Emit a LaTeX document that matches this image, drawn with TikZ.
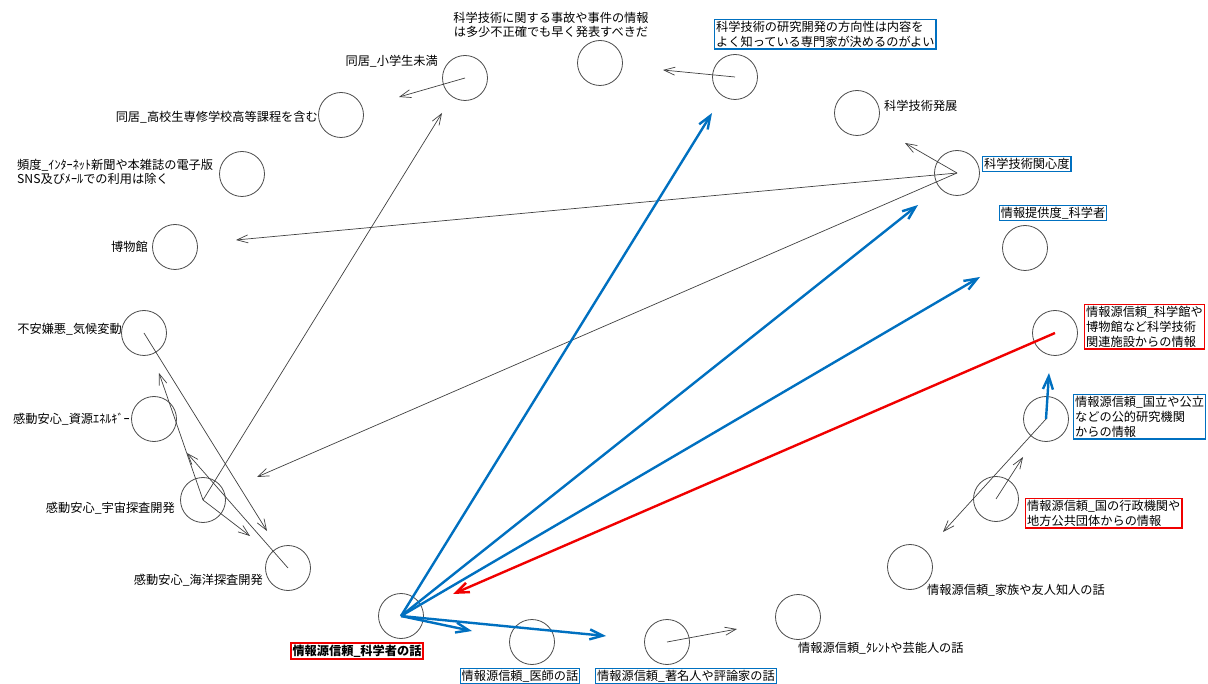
\documentclass[tikz,border=0pt]{standalone}
\usepackage{fontspec}
\setmainfont{Noto Sans CJK JP}
\usetikzlibrary{arrows.meta}
\definecolor{myblue}{RGB}{0,112,192}
\definecolor{myred}{RGB}{240,0,0}
\begin{document}
\begin{tikzpicture}[x=1pt,y=-1pt,
  circ/.style={draw=black!70, line width=0.8pt, circle, minimum size=45pt, inner sep=0pt},
  lab/.style={font=\fontsize{12.2}{13.5}\selectfont, inner sep=0pt, align=left, text=black},
  bluebox/.style={lab, draw=myblue, line width=1.3pt, inner sep=1.5pt, font=\fontsize{12.2}{15}\selectfont},
  redbox/.style={bluebox, draw=myred},
  thinarrow/.style={draw=black!75, line width=0.7pt, -{Straight Barb[length=11pt,width=8pt]}},
  bluearrow/.style={draw=myblue, line width=2.4pt, -{Straight Barb[length=13pt,width=10pt]}},
  redarrow/.style={draw=myred, line width=2.4pt, -{Straight Barb[length=13pt,width=10pt]}}
]
\useasboundingbox (0,0) rectangle (1208,684);

% circles
\node[circ] (cshogaku) at (465,78) {};
\node[circ] (cjiko) at (600,63) {};
\node[circ] (ckenkyu) at (735,77) {};
\node[circ] (ckokosei) at (341,115) {};
\node[circ] (chatten) at (857,113) {};
\node[circ] (chindo) at (242,174) {};
\node[circ] (ckanshin) at (957,173) {};
\node[circ] (cteikyo) at (1025,248) {};
\node[circ] (chakubutsu) at (175,247) {};
\node[circ] (ckiko) at (144,333) {};
\node[circ] (ckagakukan) at (1055,333) {};
\node[circ] (cshigen) at (154,419) {};
\node[circ] (ckokuritsu) at (1046,419) {};
\node[circ] (cuchu) at (203,500) {};
\node[circ] (cgyosei) at (996,499) {};
\node[circ] (ckaiyo) at (288,568) {};
\node[circ] (ckazoku) at (910,567) {};
\node[circ] (ckagakusha) at (401,616) {};
\node[circ] (cishi) at (532,642) {};
\node[circ] (cchomei) at (667,642) {};
\node[circ] (ctalent) at (798,617) {};

% labels
\node[lab, anchor=east] (lshogaku) at (438,61) {同居\_小学生未満};
\node[lab, anchor=center, align=center] (ljiko) at (551,25) {科学技術に関する事故や事件の情報\\は多少不正確でも早く発表すべきだ};
\node[bluebox, anchor=north west] (lkenkyu) at (714,19) {科学技術の研究開発の方向性は内容を\\よく知っている専門家が決めるのがよい};
\node[lab, anchor=east] (lkokosei) at (318,117) {同居\_高校生専修学校高等課程を含む};
\node[lab, anchor=west] (lhatten) at (884,106) {科学技術発展};
\node[lab, anchor=west] (lhindo) at (17,172) {頻度\_ｲﾝﾀｰﾈｯﾄ新聞や本雑誌の電子版\\SNS及びﾒｰﾙでの利用は除く};
\node[bluebox, anchor=west] (lkanshin) at (982,164) {科学技術関心度};
\node[bluebox, anchor=center] (lteikyo) at (1053,213) {情報提供度\_科学者};
\node[lab, anchor=east] (lhakubutsu) at (148,247) {博物館};
\node[lab, anchor=east] (lkiko) at (122,329) {不安嫌悪\_気候変動};
\node[redbox, anchor=north west] (lkagakukan) at (1084,304) {情報源信頼\_科学館や\\博物館など科学技術\\関連施設からの情報};
\node[lab, anchor=east] (lshigen) at (130,419) {感動安心\_資源ｴﾈﾙｷﾞｰ};
\node[bluebox, anchor=north west] (lkokuritsu) at (1073,394) {情報源信頼\_国立や公立\\などの公的研究機関\\からの情報};
\node[lab, anchor=east] (luchu) at (175,508) {感動安心\_宇宙探査開発};
\node[redbox, anchor=north west] (lgyosei) at (1025,498) {情報源信頼\_国の行政機関や\\地方公共団体からの情報};
\node[lab, anchor=east] (lkaiyo) at (263,580) {感動安心\_海洋探査開発};
\node[lab, anchor=west] (lkazoku) at (927,590) {情報源信頼\_家族や友人知人の話};
\node[lab, anchor=west] (ltalent) at (798,648) {情報源信頼\_ﾀﾚﾝﾄや芸能人の話};
\node[redbox, line width=2pt, anchor=west, font=\fontsize{12.2}{15}\bfseries] (lkagakusha) at (290,651) {情報源信頼\_科学者の話};
\node[bluebox, anchor=center] (lishi) at (520,676) {情報源信頼\_医師の話};
\node[bluebox, anchor=center] (lchomei) at (686,676) {情報源信頼\_著名人や評論家の話};

% arrow tips
\coordinate (t1) at (399,97);
\coordinate (t2) at (663,70);
\coordinate (t3) at (905,143);
\coordinate (t4) at (236,240);
\coordinate (t5) at (257,477);
\coordinate (t6) at (442,113);
\coordinate (t7) at (267,531);
\coordinate (t8) at (159,373);
\coordinate (t9) at (250,536);
\coordinate (t10) at (187,453);
\coordinate (t11) at (943,532);
\coordinate (t12) at (1023,457);
\coordinate (t13) at (737,629);
\coordinate (tb1) at (712,113);
\coordinate (tb2) at (918,205);
\coordinate (tb3) at (980,277);
\coordinate (tb4) at (472,631);
\coordinate (tb5) at (606,636);
\coordinate (tb6) at (1049,373);
\coordinate (tr) at (453,594);

% thin arrows
\draw[thinarrow] (cshogaku.center) -- (t1);
\draw[thinarrow] (ckenkyu.center) -- (t2);
\draw[thinarrow] (ckanshin.center) -- (t3);
\draw[thinarrow] (ckanshin.center) -- (t4);
\draw[thinarrow] (ckanshin.center) -- (t5);
\draw[thinarrow] (cuchu.center) -- (t6);
\draw[thinarrow] (ckiko.center) -- (t7);
\draw[thinarrow] (cuchu.center) -- (t8);
\draw[thinarrow] (cuchu.center) -- (t9);
\draw[thinarrow] (ckaiyo.center) -- (t10);
\draw[thinarrow] (ckokuritsu.center) -- (t11);
\draw[thinarrow] (cgyosei.center) -- (t12);
\draw[thinarrow] (cchomei.center) -- (t13);

% blue and red arrows
\draw[bluearrow] (ckagakusha.center) -- (tb1);
\draw[bluearrow] (ckagakusha.center) -- (tb2);
\draw[bluearrow] (ckagakusha.center) -- (tb3);
\draw[bluearrow] (ckagakusha.center) -- (tb4);
\draw[bluearrow] (ckagakusha.center) -- (tb5);
\draw[bluearrow] (ckokuritsu.center) -- (tb6);
\draw[redarrow] (ckagakukan.center) -- (tr);
\end{tikzpicture}
\end{document}
